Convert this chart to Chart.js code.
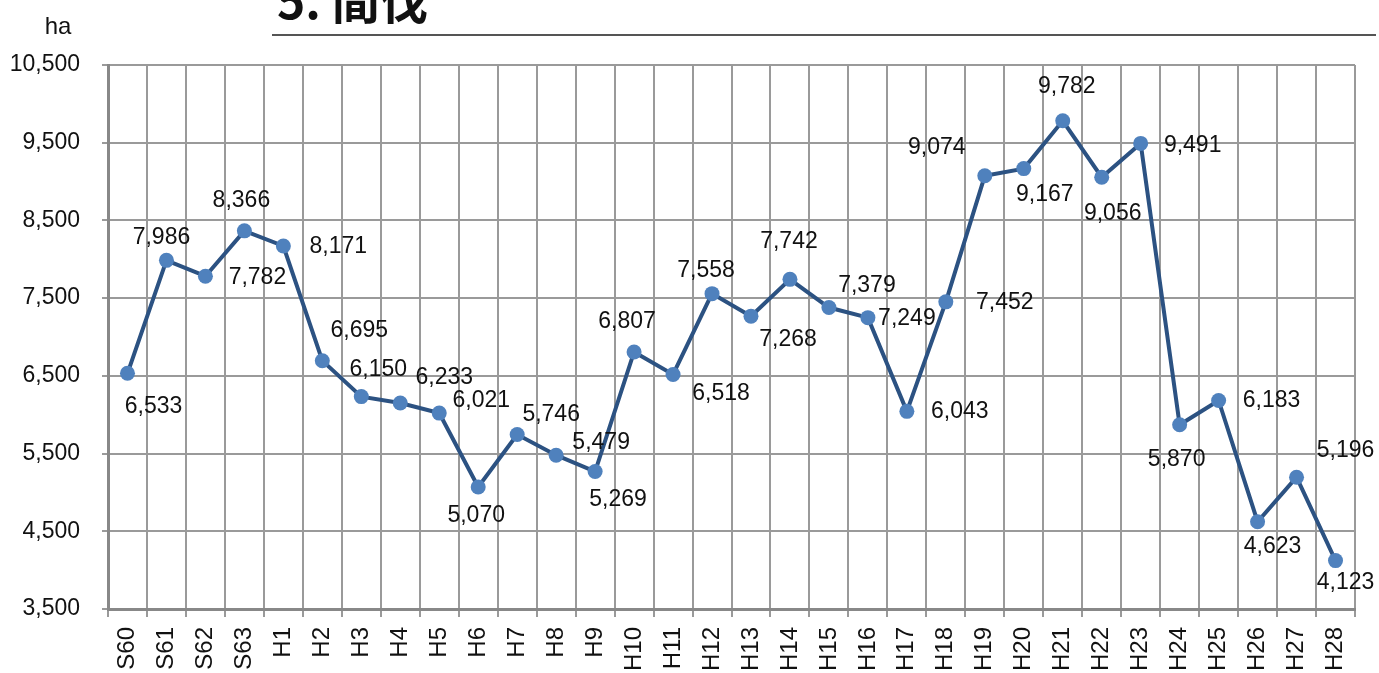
<!DOCTYPE html>
<html>
<head>
<meta charset="utf-8">
<script src="https://cdn.jsdelivr.net/npm/chart.js@4/dist/chart.umd.min.js"></script>
<style>
  body { margin: 0; background: #fff; }
  canvas { display: block; }
</style>
</head>
<body>
<canvas id="chart" width="1379" height="673"></canvas>
<script>
// Data
const categories = ['S60', 'S61', 'S62', 'S63', 'H1', 'H2', 'H3', 'H4', 'H5', 'H6', 'H7', 'H8', 'H9', 'H10',
    'H11', 'H12', 'H13', 'H14', 'H15', 'H16', 'H17', 'H18', 'H19', 'H20', 'H21', 'H22', 'H23', 'H24',
    'H25', 'H26', 'H27', 'H28'];
const thinningArea = [6533, 7986, 7782, 8366, 8171, 6695, 6233, 6150, 6021, 5070, 5746, 5479, 5269, 6807,
    6518, 7558, 7268, 7742, 7379, 7249, 6043, 7452, 9074, 9167, 9782, 9056, 9491, 5870,
    6183, 4623, 5196, 4123];
const yTicks = [3500, 4500, 5500, 6500, 7500, 8500, 9500, 10500];
const unitLabel = 'ha';
const titleText = '5. 間伐';

// where each value label sits relative to its point (px)
const labelOffsets = [
    [26, 33], [-5, -23], [52, 1], [-3, -30], [55, 1], [37, -30], [83, -19], [-22, -33],
    [42, -12], [-2, 29], [34, -20], [45, -13], [23, 28], [-7, -30], [48, 19], [-6, -23],
    [37, 23], [-1, -38], [38, -22], [39, 1], [53, 0], [59, 1], [-48, -28], [21, 26],
    [4, -34], [11, 36], [52, 2], [-3, 35], [53, 0], [15, 25], [49, -27], [10, 22]
];

const FONT = "'Liberation Sans', Arial, sans-serif";
const TEXT_COLOR = '#111';

function fmt(v) {
    return v.toLocaleString('en-US');
}

// Value labels next to the points
const valueLabels = {
    id: 'valueLabels',
    afterDatasetsDraw(chart) {
        const ctx = chart.ctx;
        const meta = chart.getDatasetMeta(0);
        ctx.save();
        ctx.font = '23px ' + FONT;
        ctx.fillStyle = TEXT_COLOR;
        ctx.textAlign = 'center';
        ctx.textBaseline = 'middle';
        meta.data.forEach(function(pt, i) {
            const off = labelOffsets[i];
            ctx.fillText(fmt(thinningArea[i]), pt.x + off[0], pt.y + off[1]);
        });
        ctx.restore();
    }
};

// Title, rule under it and the unit
const decorations = {
    id: 'decorations',
    afterDraw(chart) {
        const ctx = chart.ctx;
        ctx.save();
        ctx.fillStyle = TEXT_COLOR;
        ctx.font = "bold 48px 'Noto Sans CJK JP', sans-serif";
        ctx.textAlign = 'left';
        ctx.textBaseline = 'alphabetic';
        ctx.fillText(titleText, 277, 19);

        ctx.strokeStyle = '#555';
        ctx.lineWidth = 2;
        ctx.beginPath();
        ctx.moveTo(272, 35);
        ctx.lineTo(1376, 35);
        ctx.stroke();

        ctx.font = '24px ' + FONT;
        ctx.textAlign = 'center';
        ctx.textBaseline = 'middle';
        ctx.fillText(unitLabel, 58, 27);
        ctx.restore();
    }
};

new Chart(document.getElementById('chart'), {
    type: 'line',
    data: {
        labels: categories,
        datasets: [{
            data: thinningArea,
            borderColor: '#2c5282',
            borderWidth: 4,
            pointRadius: 7.5,
            pointBackgroundColor: '#4f81bd',
            pointBorderWidth: 0,
            tension: 0
        }]
    },
    options: {
        responsive: false,
        animation: false,
        devicePixelRatio: 1,
        layout: { padding: { top: 65, right: 24, left: 0, bottom: 0 } },
        plugins: {
            legend: { display: false },
            tooltip: { enabled: false }
        },
        scales: {
            x: {
                offset: true,
                grid: { offset: true, color: '#9a9a9a', lineWidth: 2, tickLength: 8 },
                border: { color: '#888', width: 3 },
                ticks: {
                    autoSkip: false,
                    maxRotation: 90,
                    minRotation: 90,
                    padding: 10,
                    color: TEXT_COLOR,
                    font: { family: FONT, size: 24 }
                },
                afterFit: function(scale) { scale.height = 64; }
            },
            y: {
                min: 3500,
                max: 10500,
                afterBuildTicks: function(scale) {
                    scale.ticks = yTicks.map(function(v) { return { value: v }; });
                },
                grid: { color: '#9a9a9a', lineWidth: 2, tickLength: 6 },
                border: { color: '#888', width: 3 },
                ticks: {
                    padding: 22,
                    color: TEXT_COLOR,
                    font: { family: FONT, size: 23 },
                    callback: function(v) { return fmt(v); }
                },
                afterFit: function(scale) { scale.width = 108; }
            }
        }
    },
    plugins: [valueLabels, decorations]
});
</script>
</body>
</html>
